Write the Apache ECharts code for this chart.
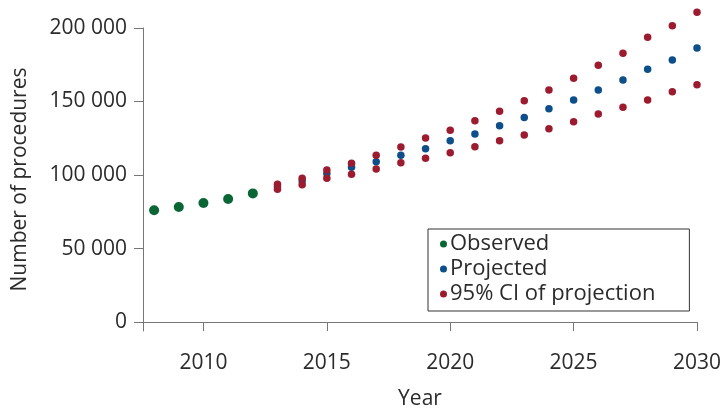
<!DOCTYPE html>
<html>
<head>
<meta charset="utf-8">
<script src="https://cdn.jsdelivr.net/npm/echarts@6/dist/echarts.min.js"></script>
<style>
  html, body { margin: 0; padding: 0; background: #fff; }
  #chart { width: 723px; height: 409px; }
</style>
</head>
<body>
<div id="chart"></div>
<script>
// observed counts
var observedYears = [2008, 2009, 2010, 2011, 2012];
var observedValues = [76000, 78200, 81000, 83700, 87500];

// projection and its 95% CI
var projYears = [2013, 2014, 2015, 2016, 2017, 2018, 2019, 2020, 2021, 2022,
                 2023, 2024, 2025, 2026, 2027, 2028, 2029, 2030];
var projValues = [92000, 96000, 101000, 105200, 109000, 113400, 117900, 123300, 127900, 133500,
                  139200, 145100, 151000, 157800, 164600, 171900, 178200, 186400];
var ciUpper = [93700, 97800, 103400, 108000, 113400, 119000, 125200, 130400, 136900, 143300,
               150500, 157800, 165800, 174600, 182800, 193700, 201600, 210700];
var ciLower = [90300, 93400, 97800, 100500, 104100, 108400, 111400, 115200, 119300, 123300,
               127200, 131500, 136300, 141500, 146100, 151000, 156700, 161400];

var yTicks = [0, 50000, 100000, 150000, 200000];
var xTicks = [2010, 2015, 2020, 2025, 2030];

function zip(xs, ys) {
  return xs.map(function (x, i) { return [x, ys[i]]; });
}

var font = '"Open Sans", "Noto Sans", sans-serif';
var textColor = '#2b2b2b';
var axisColor = '#777';
var green = '#0a6634', blue = '#0c4f8a', red = '#9c1b2f';

var chart = echarts.init(document.getElementById('chart'));
chart.setOption({
  animation: false,
  textStyle: { fontFamily: font },
  grid: { left: 143, right: 26, top: 28, bottom: 78, outerBoundsMode: 'none' },
  legend: {
    orient: 'vertical',
    left: 428,
    top: 229,
    width: 261,
    padding: [4, 34, 6, 12],
    itemGap: 3,
    itemWidth: 7,
    itemHeight: 7,
    borderColor: '#333',
    borderWidth: 1,
    textStyle: { fontSize: 22, color: textColor, fontFamily: font, padding: [0, 0, 0, -2] },
    data: [
      { name: 'Observed', icon: 'circle', itemStyle: { color: green } },
      { name: 'Projected', icon: 'circle', itemStyle: { color: blue } },
      { name: '95% CI of projection', icon: 'circle', itemStyle: { color: red } }
    ]
  },
  xAxis: {
    type: 'value',
    min: 2007.55,
    max: 2030,
    name: 'Year',
    nameLocation: 'middle',
    nameGap: 58,
    nameTextStyle: { fontSize: 21, color: textColor },
    axisLine: { lineStyle: { color: axisColor } },
    axisTick: { show: true, customValues: xTicks, length: 9, lineStyle: { color: axisColor } },
    axisLabel: {
      customValues: xTicks,
      fontSize: 21,
      color: textColor,
      margin: 22,
      formatter: function (v) { return String(v); }
    },
    splitLine: { show: false }
  },
  yAxis: {
    type: 'value',
    min: -6100,
    max: 200000,
    name: 'Number of procedures',
    nameLocation: 'middle',
    nameGap: 112,
    nameTextStyle: { fontSize: 21, color: textColor },
    axisLine: { show: true, lineStyle: { color: axisColor } },
    axisTick: { show: true, customValues: yTicks, length: 9, lineStyle: { color: axisColor } },
    axisLabel: {
      customValues: yTicks,
      fontSize: 21,
      color: textColor,
      margin: 16,
      formatter: function (v) {
        return String(v).replace(/\B(?=(\d{3})+(?!\d))/g, ' ');
      }
    },
    splitLine: { show: false }
  },
  series: [
    {
      name: 'Observed',
      type: 'scatter',
      symbolSize: 10,
      clip: false,
      itemStyle: { color: green, opacity: 1 },
      data: zip(observedYears, observedValues)
    },
    {
      name: 'Projected',
      type: 'scatter',
      symbolSize: 7.5,
      clip: false,
      itemStyle: { color: blue, opacity: 1 },
      data: zip(projYears, projValues)
    },
    {
      name: '95% CI of projection',
      type: 'scatter',
      symbolSize: 7.5,
      clip: false,
      itemStyle: { color: red, opacity: 1 },
      data: zip(projYears, ciUpper).concat(zip(projYears, ciLower))
    }
  ]
});
</script>
</body>
</html>
